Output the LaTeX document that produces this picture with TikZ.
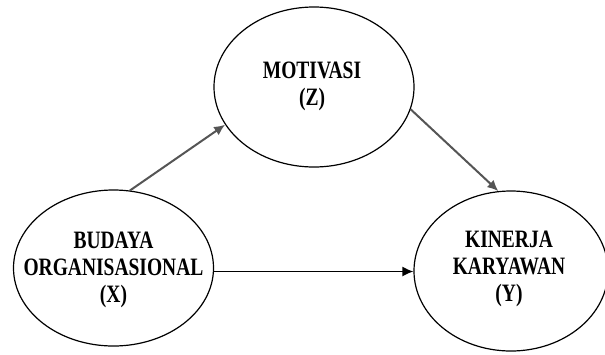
\documentclass[tikz,border=0pt]{standalone}
\usepackage{fontspec}
\setmainfont{Liberation Serif}[FakeStretch=0.78]
\usetikzlibrary{shapes.geometric,arrows.meta}

\tikzset{
  construct/.style={ellipse, draw=black, line width=1.2pt, inner sep=0pt},
  constructtext/.style={align=center, inner sep=0pt,
    font=\bfseries\fontsize{25}{27}\selectfont},
  grayarrow/.style={draw={rgb,255:red,85;green,85;blue,85}, line width=2pt,
    -{Latex[length=11pt,width=10pt]}},
  blackarrow/.style={draw=black, line width=1.5pt,
    -{Latex[length=11pt,width=10pt]}},
}

\begin{document}
\begin{tikzpicture}[x=1pt,y=-1pt]
  \useasboundingbox (0,0) rectangle (605,354);
  \begin{scope}
    \clip (0,0) rectangle (605,354);
    \node[construct, minimum width=200pt, minimum height=156pt] (X) at (113.5,268) {};
    \node[construct, minimum width=200pt, minimum height=160pt] (Z) at (314,87) {};
    \node[construct, minimum width=194pt, minimum height=160pt] (Y) at (511,271) {};
  \end{scope}

  \node[constructtext] (Xtext) at (113.5,270) {BUDAYA\\ORGANISASIONAL\\(X)};
  \node[constructtext] (Ztext) at (312,86) {MOTIVASI\\(Z)};
  \node[constructtext] (Ytext) at (509,269) {KINERJA\\KARYAWAN\\(Y)};

  \draw[grayarrow] (X.78) -- (Z.203.5);
  \draw[grayarrow] (Z.-13.8) -- (Y.99.7);
  \draw[blackarrow] (X.-2) -- (X.-2 -| Y.west);
\end{tikzpicture}
\end{document}
